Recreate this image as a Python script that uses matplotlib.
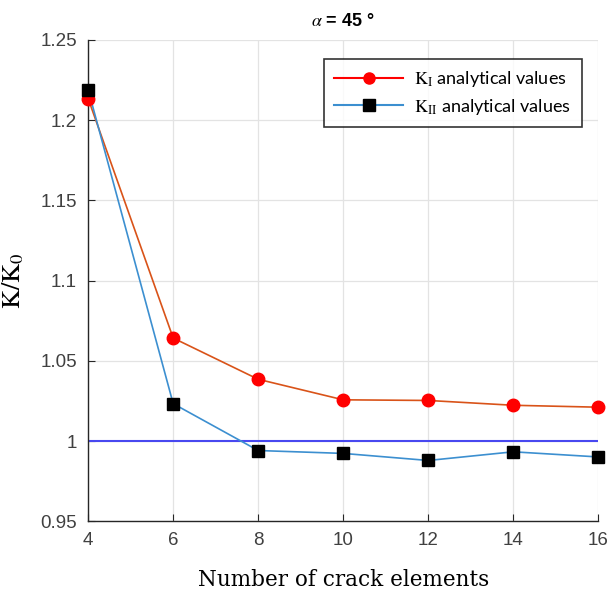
import matplotlib
matplotlib.use("Agg")
import matplotlib.pyplot as plt
from matplotlib.lines import Line2D

plt.rcParams["mathtext.fontset"] = "stix"

n_elements = [4, 6, 8, 10, 12, 14, 16]
k1_values = [1.2134, 1.0642, 1.0385, 1.0257, 1.0253, 1.0223, 1.0211]
k2_values = [1.2190, 1.0233, 0.9941, 0.9923, 0.9879, 0.9933, 0.9901]
reference_value = 1.0
x_ticks = [4, 6, 8, 10, 12, 14, 16]
y_ticks = [0.95, 1.0, 1.05, 1.1, 1.15, 1.2, 1.25]
y_tick_labels = ["0.95", "1", "1.05", "1.1", "1.15", "1.2", "1.25"]

fig = plt.figure(figsize=(6.08, 6.14), dpi=100)
ax = fig.add_axes([0.145, 0.151, 0.839, 0.784])

ax.plot(n_elements, k1_values, color="#D95319", lw=1.2, zorder=3)
ax.plot(n_elements, k1_values, ls="none", marker="o", ms=9, color="#FF0000", zorder=4, clip_on=False)
ax.plot(n_elements, k2_values, color="#3C8FD0", lw=1.2, zorder=3)
ax.plot(n_elements, k2_values, ls="none", marker="s", ms=8, color="black", zorder=4, clip_on=False)
ax.axhline(reference_value, color="#4848F0", lw=1.5, zorder=2)

ax.set_xlim(4, 16)
ax.set_ylim(0.95, 1.25)
ax.set_xticks(x_ticks)
ax.set_yticks(y_ticks)
ax.set_yticklabels(y_tick_labels)
ax.grid(True, color="#E3E3E3", lw=0.9)
ax.set_axisbelow(True)
for s in ["top", "right"]:
    ax.spines[s].set_visible(False)
for s in ["left", "bottom"]:
    ax.spines[s].set_color("#262626")
    ax.spines[s].set_linewidth(1.0)
ax.tick_params(direction="in", length=5, color="#262626", labelsize=13.5,
               labelcolor="#404040", pad=8)
for lbl in ax.get_xticklabels() + ax.get_yticklabels():
    lbl.set_family("Liberation Sans")

ax.set_xlabel("Number of crack elements", family="DejaVu Serif", fontsize=15.5, labelpad=14)
ax.set_ylabel(r"$\mathrm{K/K_0}$", fontsize=19, labelpad=10)
ax.set_title(r"$\alpha$ = 45 °", fontsize=13, fontweight="bold", family="Liberation Sans", pad=10)

handles = [
    Line2D([], [], color="#FF0000", lw=1.5, marker="o", ms=8),
    Line2D([], [], color="#3C8FD0", lw=1.5, marker="s", ms=8, mfc="black", mec="black"),
]
labels = [r"$\mathrm{K_I}$ analytical values", r"$\mathrm{K_{II}}$ analytical values"]
leg = ax.legend(handles, labels, loc="upper right", bbox_to_anchor=(0.985, 0.98),
                prop={"family": "Lato", "size": 13}, frameon=True, fancybox=False,
                edgecolor="black", handlelength=3.8, borderpad=0.6, labelspacing=0.4,
                handletextpad=0.6)
leg.get_frame().set_linewidth(1.2)

fig.savefig("out.png", dpi=100, facecolor="white")
